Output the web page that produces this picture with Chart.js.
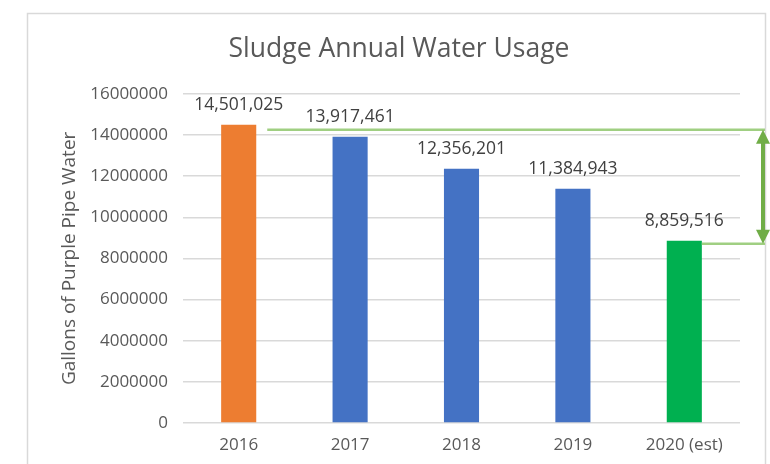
<!DOCTYPE html>
<html>
<head>
<meta charset="utf-8">
<script src="https://cdn.jsdelivr.net/npm/chart.js@4.4.1/dist/chart.umd.min.js"></script>
<style>
  html, body { margin: 0; padding: 0; background: #ffffff; }
  #wrap { width: 770px; height: 464px; position: relative; }
</style>
</head>
<body>
<div id="wrap"><canvas id="c" width="770" height="464"></canvas></div>
<script>
const categories = ["2016", "2017", "2018", "2019", "2020 (est)"];
const usage = [14501025, 13917461, 12356201, 11384943, 8859516];
const barColors = ["#ed7d31", "#4472c4", "#4472c4", "#4472c4", "#00b050"];
const yTicks = [0, 2000000, 4000000, 6000000, 8000000, 10000000, 12000000, 14000000, 16000000];
const chartTitle = "Sludge Annual Water Usage";
const yTitle = "Gallons of Purple Pipe Water";

const FONT = "'Open Sans', 'Noto Sans', sans-serif";
const TEXT = "#595959";

const framePlugin = {
  id: 'frame',
  beforeDraw(chart) {
    const ctx = chart.ctx;
    ctx.save();
    ctx.fillStyle = '#ffffff';
    ctx.fillRect(0, 0, chart.width, chart.height);
    ctx.strokeStyle = '#d9d9d9';
    ctx.lineWidth = 1.5;
    ctx.beginPath();
    ctx.moveTo(27.5, 470);
    ctx.lineTo(27.5, 13.5);
    ctx.lineTo(765.5, 13.5);
    ctx.lineTo(765.5, 470);
    ctx.stroke();
    ctx.restore();
  }
};

const labelPlugin = {
  id: 'barLabels',
  afterDatasetsDraw(chart) {
    const ctx = chart.ctx;
    const meta = chart.getDatasetMeta(0);
    ctx.save();
    ctx.font = "17.5px " + FONT;
    ctx.fillStyle = "#404040";
    ctx.textAlign = 'center';
    ctx.textBaseline = 'alphabetic';
    meta.data.forEach((bar, i) => {
      ctx.fillText(usage[i].toLocaleString('en-US'), bar.x, bar.y - 15);
    });

    // green comparison lines and arrow
    const first = meta.data[0];
    const last = meta.data[meta.data.length - 1];
    const yTop = first.y + 5;
    const yBot = last.y + 3;
    const xEnd = 765;
    ctx.strokeStyle = '#a0cf82';
    ctx.lineWidth = 2.5;
    ctx.beginPath();
    ctx.moveTo(first.x + first.width / 2 + 11, yTop);
    ctx.lineTo(xEnd, yTop);
    ctx.moveTo(last.x + last.width / 2, yBot);
    ctx.lineTo(xEnd, yBot);
    ctx.stroke();

    const ax = 763;
    const head = 14, hw = 7;
    ctx.strokeStyle = '#70ad47';
    ctx.fillStyle = '#70ad47';
    ctx.lineWidth = 4;
    ctx.beginPath();
    ctx.moveTo(ax, yTop + head - 2);
    ctx.lineTo(ax, yBot - head + 2);
    ctx.stroke();
    ctx.beginPath();
    ctx.moveTo(ax, yTop);
    ctx.lineTo(ax - hw, yTop + head);
    ctx.lineTo(ax + hw, yTop + head);
    ctx.closePath();
    ctx.fill();
    ctx.beginPath();
    ctx.moveTo(ax, yBot);
    ctx.lineTo(ax - hw, yBot - head);
    ctx.lineTo(ax + hw, yBot - head);
    ctx.closePath();
    ctx.fill();
    ctx.restore();
  }
};

new Chart(document.getElementById('c'), {
  type: 'bar',
  data: {
    labels: categories,
    datasets: [{
      data: usage,
      backgroundColor: barColors,
      borderWidth: 0,
      barPercentage: 0.63,
      categoryPercentage: 0.5
    }]
  },
  options: {
    responsive: false,
    animation: false,
    devicePixelRatio: 1,
    layout: { padding: { left: 58, right: 30, top: 0, bottom: 0 } },
    plugins: {
      legend: { display: false },
      tooltip: { enabled: false },
      title: {
        display: true,
        text: chartTitle,
        color: TEXT,
        font: { family: FONT, size: 26.5, weight: 'normal' },
        padding: { top: 34, bottom: 28 }
      }
    },
    scales: {
      x: {
        grid: { display: false, drawTicks: false },
        border: { display: false },
        ticks: { color: TEXT, font: { family: FONT, size: 17 }, padding: 12 },
        afterFit(scale) { scale.height = 41; }
      },
      y: {
        min: 0,
        max: 16000000,
        afterBuildTicks(scale) { scale.ticks = yTicks.map(v => ({ value: v })); },
        grid: { color: '#d9d9d9', lineWidth: 1.5, drawTicks: false },
        border: { display: false },
        ticks: { color: TEXT, font: { family: FONT, size: 17 }, padding: 15, callback: v => String(v) },
        title: { display: true, text: yTitle, color: TEXT, font: { family: FONT, size: 19 }, padding: { top: 0, bottom: 1 } },
        afterFit(scale) { scale.width = 125; }
      }
    }
  },
  plugins: [framePlugin, labelPlugin]
});
</script>
</body>
</html>
